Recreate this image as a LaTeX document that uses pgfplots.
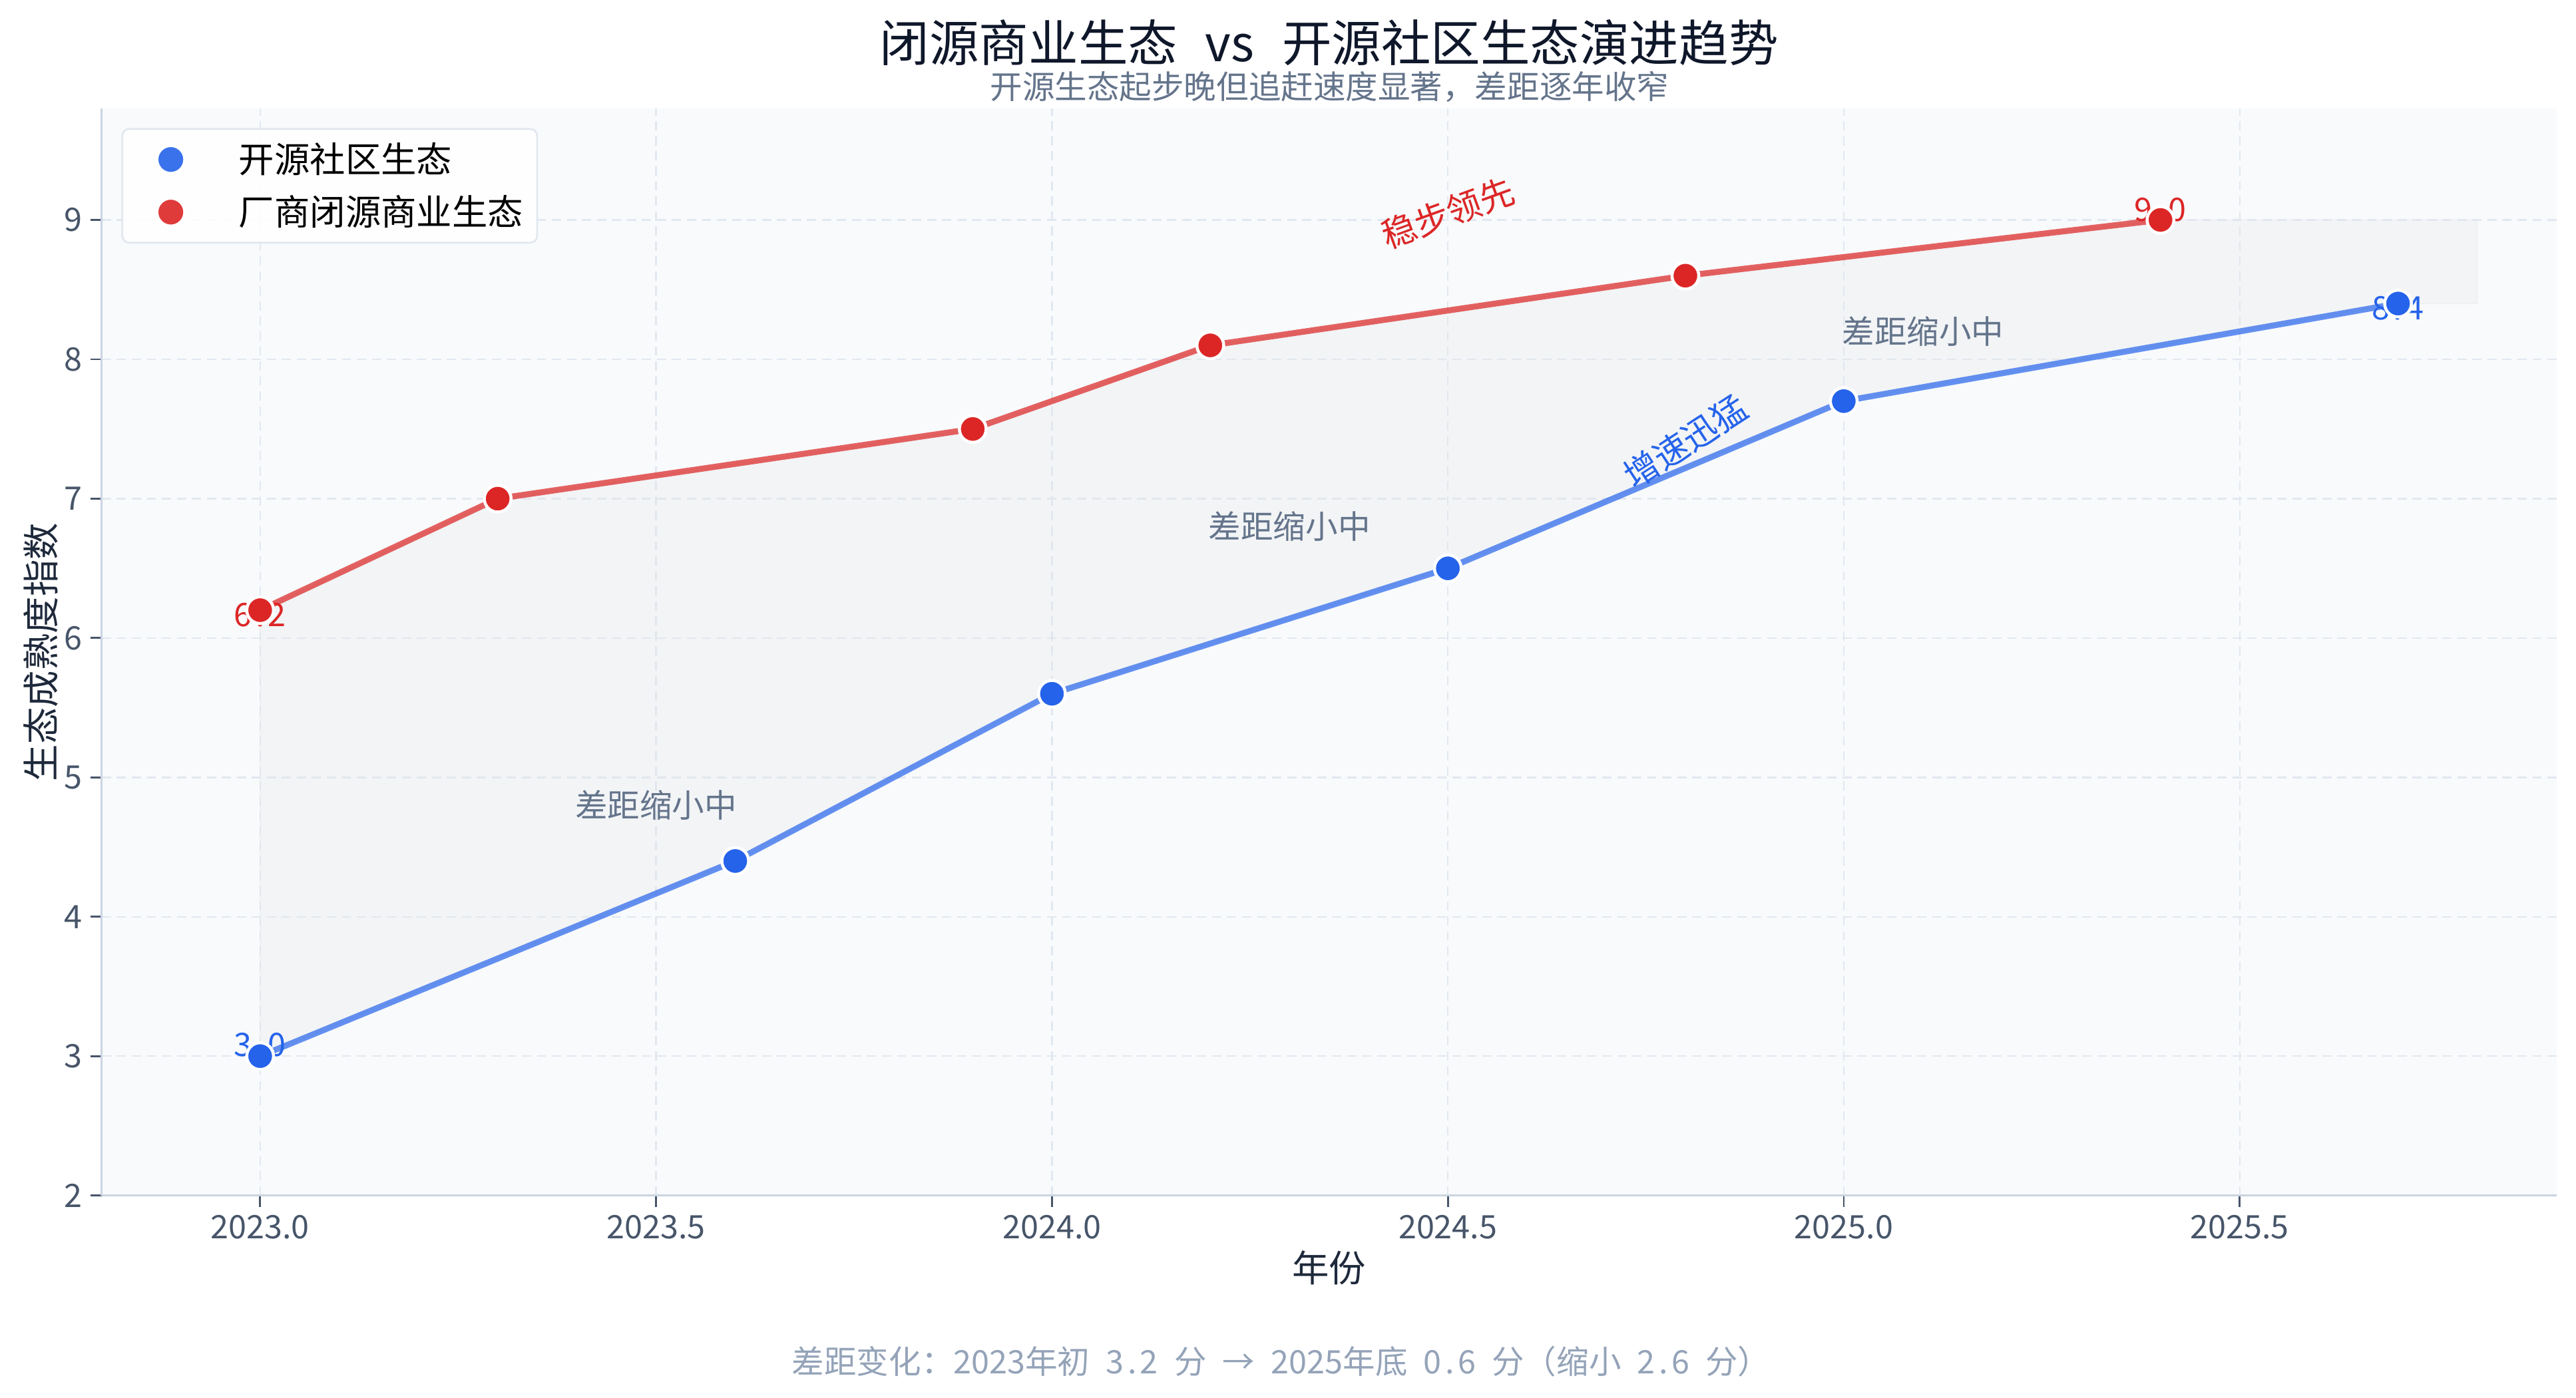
\documentclass[border=0pt]{standalone}
\usepackage{fontspec}
\setmainfont{Noto Sans CJK SC}
\usepackage{pgfplots}
\pgfplotsset{compat=1.18}
\definecolor{bgc}{HTML}{F8FAFC}
\definecolor{gridc}{HTML}{E2E8F0}
\definecolor{spinec}{HTML}{CBD5E1}
\definecolor{tickc}{HTML}{475569}
\definecolor{labc}{HTML}{1E293B}
\definecolor{titlec}{HTML}{0F172A}
\definecolor{subc}{HTML}{64748B}
\definecolor{footc}{HTML}{94A3B8}
\definecolor{bluec}{HTML}{2563EB}
\definecolor{redc}{HTML}{DC2626}
\definecolor{fillc}{HTML}{E5E7EB}
\definecolor{legc}{HTML}{E2E8F0}
\newcommand\hsp{\hspace{0.5em}}
\newcommand\mdot{\makebox[0.5em]{.}}
\begin{document}
\begin{tikzpicture}
\path[use as bounding box] (0,0) rectangle (1116pt,605.6pt);
\begin{axis}[
  at={(44.1pt,87.5pt)}, anchor=south west,
  width=1063.4pt, height=471.1pt, scale only axis,
  xmin=2022.8, xmax=2025.9, ymin=2, ymax=9.8,
  xtick={2023,2023.5,2024,2024.5,2025,2025.5},
  ytick={2,3,4,5,6,7,8,9},
  axis x line*=bottom, axis y line*=left,
  axis line style={draw=spinec, line width=0.9pt, -},
  axis background/.style={fill=bgc},
  grid=major,
  major grid style={draw=gridc, line width=0.7pt, dash pattern=on 4pt off 2.5pt},
  tick align=outside, major tick length=5pt,
  tick style={draw=tickc, line width=0.8pt},
  /pgf/number format/assume math mode=true,
  ticklabel style={font=\fontsize{14}{16}\selectfont, text=tickc},
  xticklabel style={/pgf/number format/fixed, /pgf/number format/fixed zerofill, /pgf/number format/precision=1, /pgf/number format/1000 sep={}},
  yticklabel style={/pgf/number format/fixed, /pgf/number format/precision=0},
  xlabel={年份}, ylabel={生态成熟度指数},
  every axis x label/.style={at={(axis description cs:0.5,-0.0664)}, anchor=center, font=\fontsize{16}{18}\selectfont, text=labc},
  every axis y label/.style={at={(axis description cs:-0.0247,0.5)}, rotate=90, anchor=center, font=\fontsize{16}{18}\selectfont, text=labc},
  legend style={at={(0.008,0.982)}, anchor=north west, draw=legc, line width=0.8pt, fill=white, fill opacity=0.9, text opacity=1, rounded corners=3pt, inner xsep=3pt, inner ysep=3pt, row sep=2.3pt, column sep=8.5pt, font=\fontsize{15.4}{18}\selectfont, nodes={inner sep=3pt, text=black}},
  legend cell align=left,
  legend image code/.code={\pgfpathrectangle{\pgfpoint{0pt}{-5pt}}{\pgfpoint{36pt}{10pt}}\pgfusepath{discard}\draw[#1] plot coordinates {(18pt,0pt)};},
]
\addlegendimage{only marks, mark=*, mark size=6pt, mark options={fill=bluec, draw=white, line width=1.2pt}}
\addlegendentry{开源社区生态}
\addlegendimage{only marks, mark=*, mark size=6pt, mark options={fill=redc, draw=white, line width=1.2pt}}
\addlegendentry{厂商闭源商业生态}

% gap area
\addplot[forget plot, fill=fillc, fill opacity=0.3, draw=fillc, draw opacity=0.4, line width=0.5pt] coordinates {
  (2023.0,6.2) (2023.3,7.0) (2023.9,7.5) (2024.2,8.1) (2024.8,8.6) (2025.4,9.0) (2025.8,9.0)
  (2025.8,8.4) (2025.7,8.4) (2025.0,7.7) (2024.5,6.5) (2024.0,5.6) (2023.6,4.4) (2023.0,3.0)
} -- cycle;

% lines
\addplot[forget plot, draw=redc, draw opacity=0.72, line width=2.6pt, no marks] coordinates {
  (2023.0,6.2) (2023.3,7.0) (2023.9,7.5) (2024.2,8.1) (2024.8,8.6) (2025.4,9.0)};
\addplot[forget plot, draw=bluec, draw opacity=0.7, line width=2.6pt, no marks] coordinates {
  (2023.0,3.0) (2023.6,4.4) (2024.0,5.6) (2024.5,6.5) (2025.0,7.7) (2025.7,8.4)};

% value labels (under markers)
\node[font=\fontsize{14}{16}\selectfont, text=bluec, yshift=4.8pt] at (axis cs:2023.0,3.0) {3\mdot0};
\node[font=\fontsize{14}{16}\selectfont, text=bluec, yshift=-2pt] at (axis cs:2025.7,8.4) {8\mdot4};
\node[font=\fontsize{14}{16}\selectfont, text=redc, yshift=-2pt] at (axis cs:2023.0,6.2) {6\mdot2};
\node[font=\fontsize{14}{16}\selectfont, text=redc, yshift=4.3pt] at (axis cs:2025.4,9.0) {9\mdot0};

% markers
\addplot[forget plot, only marks, mark=*, mark size=5.8pt, mark options={fill=redc, draw=white, line width=1.3pt}] coordinates {
  (2023.0,6.2) (2023.3,7.0) (2023.9,7.5) (2024.2,8.1) (2024.8,8.6) (2025.4,9.0)};
\addplot[forget plot, only marks, mark=*, mark size=5.8pt, mark options={fill=bluec, draw=white, line width=1.3pt}] coordinates {
  (2023.0,3.0) (2023.6,4.4) (2024.0,5.6) (2024.5,6.5) (2025.0,7.7) (2025.7,8.4)};

% annotations
\node[font=\fontsize{15}{17}\selectfont, text=redc, rotate=20] at (axis cs:2024.5,9.05) {稳步领先};
\node[font=\fontsize{15}{17}\selectfont, text=bluec, rotate=33] at (axis cs:2024.8,7.41) {增速迅猛};
\node[font=\fontsize{14}{16}\selectfont, text=subc] at (axis cs:2023.5,4.8) {差距缩小中};
\node[font=\fontsize{14}{16}\selectfont, text=subc] at (axis cs:2024.3,6.8) {差距缩小中};
\node[font=\fontsize{14}{16}\selectfont, text=subc] at (axis cs:2025.1,8.2) {差距缩小中};
\end{axis}
\node[font=\fontsize{21.5}{26}\selectfont, text=titlec] at (575.8pt,587.1pt) {闭源商业生态\hspace{12pt}vs\hspace{12pt}开源社区生态演进趋势};
\node[font=\fontsize{14}{16}\selectfont, text=subc] at (576pt,567.9pt) {开源生态起步晚但追赶速度显著，差距逐年收窄};
\node[font=\fontsize{14}{16}\selectfont, text=footc] at (555pt,15.6pt) {差距变化：2023年初\hsp3\mdot2\hsp 分\hsp→\hsp2025年底\hsp0\mdot6\hsp 分（缩小\hsp2\mdot6\hsp 分）};
\end{tikzpicture}
\end{document}
